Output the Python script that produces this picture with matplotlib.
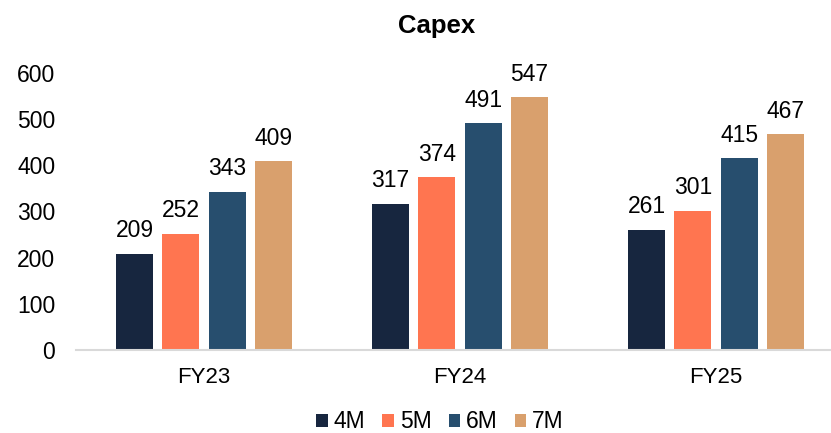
import matplotlib
matplotlib.use("Agg")
import matplotlib.pyplot as plt
import numpy as np

plt.rcParams['font.family'] = ['Liberation Sans', 'DejaVu Sans']

categories = ["FY23", "FY24", "FY25"]
series_names = ["4M", "5M", "6M", "7M"]
values_4m = [209, 317, 261]
values_5m = [252, 374, 301]
values_6m = [343, 491, 415]
values_7m = [409, 547, 467]
colors = ["#17263F", "#FF7550", "#274E6E", "#D9A06D"]
yticks = [0, 100, 200, 300, 400, 500, 600]

series = [values_4m, values_5m, values_6m, values_7m]

W, H = 831, 433
fig = plt.figure(figsize=(W / 100, H / 100), dpi=100)
ax = fig.add_axes([76 / W, 83 / H, 768 / W, 277 / H])

x = np.arange(len(categories))
pitch = 0.181
bw = 0.145
for i, (vals, c, name) in enumerate(zip(series, colors, series_names)):
    pos = x + (i - 1.5) * pitch
    ax.bar(pos, vals, width=bw, color=c, label=name, zorder=2)
    for px, v in zip(pos, vals):
        ax.annotate(str(v), (px, v), xytext=(0, 12), textcoords='offset points',
                    ha='center', va='baseline', fontsize=16.5, color='#000000')

ax.set_xlim(-0.5, 2.5)
ax.set_ylim(0, 600)
ax.set_yticks(yticks)
ax.set_xticks(x)
ax.set_xticklabels(categories)
ax.tick_params(axis='both', length=0, colors='#000000')
ax.tick_params(axis='y', pad=15, labelsize=16.5)
ax.tick_params(axis='x', pad=12, labelsize=16)
for s in ['top', 'right', 'left']:
    ax.spines[s].set_visible(False)
ax.spines['bottom'].set_color('#D9D9D9')
ax.spines['bottom'].set_linewidth(1.5)

fig.text(437 / W, 1 - 33 / H, "Capex", ha='center', va='baseline', fontsize=18.5, fontweight='bold')

fig.legend(loc='center', bbox_to_anchor=(440 / W, 1 - 422 / H), ncol=4, frameon=False,
           fontsize=16.5, handlelength=0.5, handleheight=0.5, handletextpad=0.25, columnspacing=0.75,
           borderpad=0.1)

fig.savefig("out.png", dpi=100)
